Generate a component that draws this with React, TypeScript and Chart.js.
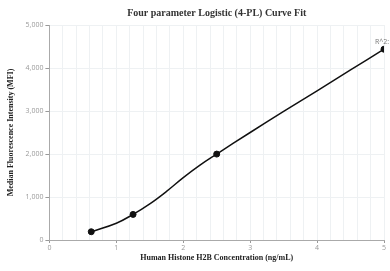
import React, { useEffect, useRef } from "react";
import { Chart, registerables } from "chart.js";

Chart.register(...registerables);

const pointX = [0.625, 1.25, 2.5, 5];
const pointY = [192, 595, 1998, 4437];
const curveX = [0.625, 1.0, 1.25, 1.5, 1.75, 2.0, 2.25, 2.5, 3.0, 3.5, 4.0, 4.5, 5.0];
const curveY = [192, 390, 595, 840, 1130, 1450, 1740, 1998, 2500, 2990, 3470, 3955, 4437];
const r2Label = "R^2: 1";
const titleText = "Four parameter Logistic (4-PL) Curve Fit";
const xTitle = "Human Histone H2B Concentration (ng/mL)";
const yTitle = "Median Fluorescence Intensity (MFI)";

const serif = "'Liberation Serif', 'Times New Roman', serif";
const sans = "'Open Sans', 'DejaVu Sans', sans-serif";

const r2Plugin = {
  id: "r2label",
  afterDatasetsDraw(chart: any) {
    const meta = chart.getDatasetMeta(1);
    const pts = meta.data;
    if (!pts || !pts.length) return;
    const p = pts[pts.length - 1];
    const ctx = chart.ctx;
    ctx.save();
    ctx.font = "7px " + sans;
    ctx.fillStyle = "#777";
    ctx.textAlign = "center";
    ctx.textBaseline = "bottom";
    ctx.fillText(r2Label, p.x + 1, p.y - 4);
    ctx.restore();
  },
};

export default function App() {
  const ref = useRef<HTMLCanvasElement | null>(null);
  useEffect(() => {
    document.body.style.margin = "0";
    const canvas = ref.current;
    if (!canvas) return;
    const chart = new Chart(canvas, {
      type: "scatter",
      data: {
        datasets: [
          {
            label: "fit",
            data: curveX.map((x, i) => ({ x, y: curveY[i] })),
            showLine: true,
            borderColor: "#111",
            borderWidth: 1.5,
            pointRadius: 0,
            tension: 0.4,
            order: 2,
          },
          {
            label: "points",
            data: pointX.map((x, i) => ({ x, y: pointY[i] })),
            backgroundColor: "#111",
            borderColor: "#111",
            pointRadius: 3,
            order: 1,
          },
        ],
      },
      options: {
        responsive: false,
        animation: false,
        maintainAspectRatio: false,
        layout: { padding: { left: 6, right: 6, top: 4, bottom: 8 } },
        plugins: {
          legend: { display: false },
          tooltip: { enabled: false },
          title: {
            display: true,
            text: titleText,
            fullSize: false,
            color: "#333",
            font: { family: serif, size: 10, weight: "bold" },
            padding: { top: 3, bottom: 6 },
          },
        },
        scales: {
          x: {
            type: "linear",
            min: 0,
            max: 5,
            ticks: {
              stepSize: 0.2,
              autoSkip: false,
              maxRotation: 0,
              color: "#999",
              font: { family: sans, size: 7 },
              padding: 1,
              callback: (v: any) => {
                const n = Number(v);
                return Math.abs(n - Math.round(n)) < 1e-6 ? String(Math.round(n)) : "";
              },
            },
            grid: {
              color: "#eef1f3",
              tickLength: 3,
              tickColor: (c: any) => {
                const n = c.tick ? c.tick.value : 0;
                return Math.abs(n - Math.round(n)) < 1e-6 ? "#999" : "rgba(0,0,0,0)";
              },
            },
            border: { color: "#aaa", width: 1 },
            title: {
              display: true,
              text: xTitle,
              color: "#222",
              font: { family: serif, size: 8, weight: "bold" },
              padding: { top: 0, bottom: 0 },
            },
          },
          y: {
            min: 0,
            max: 5000,
            ticks: {
              stepSize: 1000,
              color: "#999",
              font: { family: sans, size: 7 },
              padding: 2,
            },
            grid: { color: "#eef1f3", tickLength: 4, tickColor: "#999" },
            border: { color: "#aaa", width: 1 },
            title: {
              display: true,
              text: yTitle,
              color: "#222",
              font: { family: serif, size: 8, weight: "bold" },
              padding: { top: 0, bottom: 8 },
            },
          },
        },
      },
      plugins: [r2Plugin],
    } as any);
    return () => chart.destroy();
  }, []);
  return (
    <div style={{ width: 390, height: 271 }}>
      <canvas ref={ref} width={390} height={271} style={{ display: "block", width: 390, height: 271 }} />
    </div>
  );
}
